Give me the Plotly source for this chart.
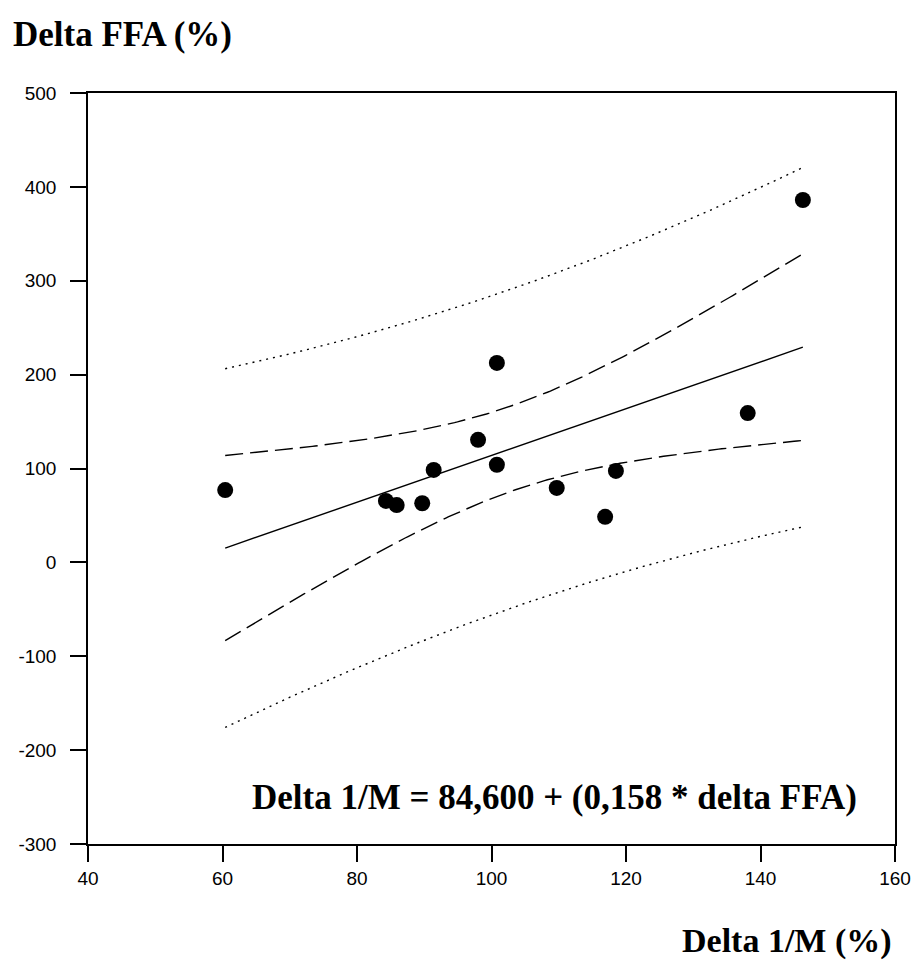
import numpy as np
import plotly.graph_objects as go

# Data
delta_1m = [60.4, 84.3, 85.9, 89.7, 91.4, 98.0, 100.8, 100.8, 109.7, 116.9, 118.5, 138.1, 146.3]
delta_ffa = [77, 65.5, 61, 63, 98.5, 130.5, 212.5, 104, 79.3, 48.5, 97.4, 159, 386]

x_ticks = [40, 60, 80, 100, 120, 140, 160]
y_ticks = [-300, -200, -100, 0, 100, 200, 300, 400, 500]
equation_text = "Delta 1/M = 84,600 + (0,158 * delta FFA)"
y_title = "Delta FFA (%)"
x_title = "Delta 1/M (%)"

# Ordinary least squares with 95% confidence and prediction bands
x = np.array(delta_1m)
y = np.array(delta_ffa)
n = len(x)
b, a = np.polyfit(x, y, 1)
resid = y - (a + b * x)
s = np.sqrt(np.sum(resid ** 2) / (n - 2))
sxx = np.sum((x - x.mean()) ** 2)
T_975 = 2.201  # t quantile, df = 11
xg = np.linspace(x.min(), x.max(), 200)
yg = a + b * xg
ci = T_975 * s * np.sqrt(1 / n + (xg - x.mean()) ** 2 / sxx)
pi = T_975 * s * np.sqrt(1 + 1 / n + (xg - x.mean()) ** 2 / sxx)

fig = go.Figure()
for yy, dash in [(yg + pi, "2px,5px"), (yg - pi, "2px,5px"),
                 (yg + ci, "18px,7px"), (yg - ci, "18px,7px"),
                 (yg, "solid")]:
    fig.add_trace(go.Scatter(x=xg, y=yy, mode="lines",
                             line=dict(color="black", width=1.4, dash=dash),
                             hoverinfo="skip", showlegend=False))
fig.add_trace(go.Scatter(x=delta_1m, y=delta_ffa, mode="markers",
                         marker=dict(color="black", size=16),
                         showlegend=False))

W, H = 917, 961
L, T, R, B = 88, 93, 22, 117
pw, ph = W - L - R, H - T - B

def px(xp):
    return (xp - L) / pw

def py(yp):
    return (H - B - yp) / ph

tick_font = dict(size=19, family="Liberation Sans, Arial, sans-serif", color="black")
serif = "Liberation Serif, Times New Roman, serif"

fig.update_layout(
    width=W, height=H,
    margin=dict(l=L, r=R, t=T, b=B, pad=0, autoexpand=False),
    paper_bgcolor="white", plot_bgcolor="white",
    font=dict(family="Liberation Sans, Arial, sans-serif", color="black"),
    xaxis=dict(range=[40, 160], tickvals=x_ticks, ticktext=[str(v) for v in x_ticks],
               ticks="outside", ticklen=16, automargin=False,
               tickwidth=1.5, tickcolor="black", showline=True, linecolor="black",
               linewidth=1.5, mirror=True, showgrid=False, zeroline=False,
               tickfont=tick_font),
    yaxis=dict(range=[-300, 500], tickvals=y_ticks, ticktext=[str(v) for v in y_ticks],
               ticks="outside", ticklen=16, ticklabelstandoff=10, automargin=False,
               tickwidth=1.5, tickcolor="black", showline=True, linecolor="black",
               linewidth=1.5, mirror=True, showgrid=False, zeroline=False,
               tickfont=tick_font),
    annotations=[
        dict(text="<b>%s</b>" % y_title, xref="paper", yref="paper",
             x=px(11), y=py(34), xanchor="left", yanchor="middle", showarrow=False,
             font=dict(family=serif, size=35)),
        dict(text="<b>%s</b>" % x_title, xref="paper", yref="paper",
             x=px(894), y=py(941), xanchor="right", yanchor="middle", showarrow=False,
             font=dict(family=serif, size=34)),
        dict(text="<b>%s</b>" % equation_text, xref="paper", yref="paper",
             x=px(250), y=py(797), xanchor="left", yanchor="middle", showarrow=False,
             font=dict(family=serif, size=35)),
    ],
)
fig.write_html("out.html")
